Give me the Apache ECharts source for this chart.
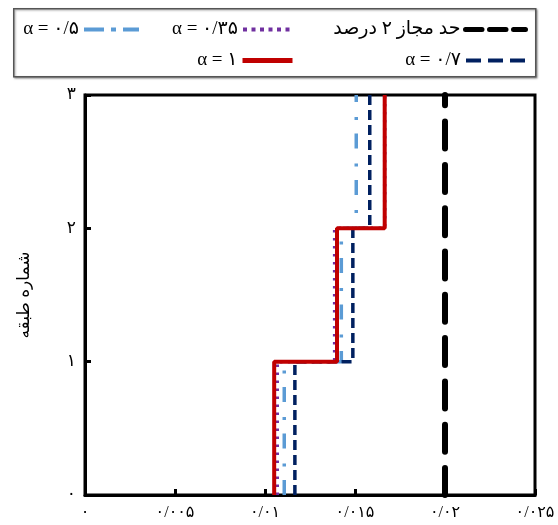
<!DOCTYPE html>
<html>
<head>
<meta charset="utf-8">
<script src="https://cdn.jsdelivr.net/npm/echarts@6/dist/echarts.min.js"></script>
<style>
html, body { margin: 0; padding: 0; background: #fff; }
#chart { width: 558px; height: 525px; }
</style>
</head>
<body>
<div id="chart"></div>
<script>
// Story levels (floor boundaries) and inter-story drift ratio of each story
const storyLevels = [0, 1, 2, 3];
const driftAlpha035 = [0.01068, 0.01387, 0.01665];
const driftAlpha05  = [0.01107, 0.01424, 0.01507];
const driftAlpha07  = [0.01166, 0.01488, 0.01582];
const driftAlpha1   = [0.01051, 0.01400, 0.01665];
const driftLimit = 0.02;

const xTicks = [0, 0.005, 0.01, 0.015, 0.02, 0.025];
const xTickLabels = ['۰', '۰/۰۰۵', '۰/۰۱', '۰/۰۱۵', '۰/۰۲', '۰/۰۲۵'];
const yTickLabels = ['۰', '۱', '۲', '۳'];

const nameLimit = 'حد مجاز ۲ درصد';
const name035 = 'α = ۰/۳۵';
const name05 = 'α = ۰/۵';
const name07 = 'α = ۰/۷';
const name1 = 'α = ۱';
const yTitle = 'شماره طبقه';

const FONT = "'Liberation Serif', 'DejaVu Sans', serif";

// Turn per-story drifts into a stepped profile: vertical within each story
function stepProfile(values) {
  const pts = [];
  values.forEach((v, i) => {
    pts.push([v, storyLevels[i]]);
    pts.push([v, storyLevels[i + 1]]);
  });
  return pts;
}

function lineSeries(name, data, lineStyle) {
  return {
    name, type: 'line', data, symbol: 'none', animation: false,
    lineStyle, itemStyle: { color: lineStyle.color }
  };
}

// One legend box per entry so each icon sits exactly in its column
function legendItem(name, right, top, width, lineStyle) {
  return {
    data: [name], orient: 'horizontal', align: 'right',
    right, top, padding: 0, itemWidth: width, itemHeight: 14,
    selectedMode: false,
    lineStyle,
    itemStyle: { opacity: 0 },
    textStyle: { fontSize: 19, color: '#000', fontFamily: FONT }
  };
}

const chart = echarts.init(document.getElementById('chart'), null, { renderer: 'canvas' });

chart.setOption({
  backgroundColor: '#fff',
  animation: false,
  graphic: [{
    type: 'rect', left: 13, top: 8, z: -1,
    shape: { width: 522, height: 68 },
    style: { fill: '#fff', stroke: '#555', lineWidth: 1.5,
             shadowColor: 'rgba(0,0,0,0.35)', shadowBlur: 2, shadowOffsetX: 1, shadowOffsetY: 1 }
  }],
  legend: [
    legendItem(nameLimit, 30, 20, 60, { width: 5, type: [16.5, 7.5] }),
    legendItem(name07, 30, 51, 60, { width: 4, type: [15, 7] }),
    legendItem(name035, 263, 20, 50, { width: 4, type: [4, 4.5] }),
    legendItem(name1, 263, 51, 50, { width: 5 }),
    legendItem(name05, 417, 20, 55, { width: 4, type: [20, 7, 5, 7] })
  ],
  grid: {
    left: 85, right: 23, top: 95, bottom: 30,
    show: true, borderColor: '#000', borderWidth: 3, containLabel: false
  },
  xAxis: {
    type: 'value', min: 0, max: 0.025, interval: 0.005,
    axisLine: { show: true, lineStyle: { color: '#000', width: 3 } },
    axisTick: { show: true, inside: true, length: 6, lineStyle: { color: '#000', width: 3 } },
    splitLine: { show: false },
    axisLabel: {
      color: '#000', fontSize: 16, margin: 10, fontFamily: FONT,
      formatter: v => {
        const i = xTicks.findIndex(t => Math.abs(t - v) < 1e-9);
        return i >= 0 ? xTickLabels[i] : '';
      }
    }
  },
  yAxis: {
    type: 'value', min: 0, max: 3, interval: 1,
    name: yTitle, nameLocation: 'middle', nameGap: 52,
    nameTextStyle: { color: '#000', fontSize: 17, fontFamily: FONT },
    axisLine: { show: true, lineStyle: { color: '#000', width: 3 } },
    axisTick: { show: true, inside: true, length: 6, lineStyle: { color: '#000', width: 3 } },
    splitLine: { show: false },
    axisLabel: {
      color: '#000', fontSize: 17, margin: 9, fontFamily: FONT,
      formatter: v => yTickLabels[Math.round(v)] || ''
    }
  },
  series: [
    lineSeries(nameLimit, [[driftLimit, storyLevels[0]], [driftLimit, storyLevels[3]]],
      { color: '#000', width: 6, type: [27, 16.3], cap: 'round' }),
    lineSeries(name035, stepProfile(driftAlpha035),
      { color: '#7030A0', width: 3.5, type: [2.5, 5.5] }),
    lineSeries(name05, stepProfile(driftAlpha05),
      { color: '#5B9BD5', width: 3.5, type: [15, 13.5, 3, 15] }),
    lineSeries(name07, stepProfile(driftAlpha07),
      { color: '#002060', width: 3.5, type: [10, 5] }),
    lineSeries(name1, stepProfile(driftAlpha1),
      { color: '#C00000', width: 4 })
  ]
});
</script>
</body>
</html>
